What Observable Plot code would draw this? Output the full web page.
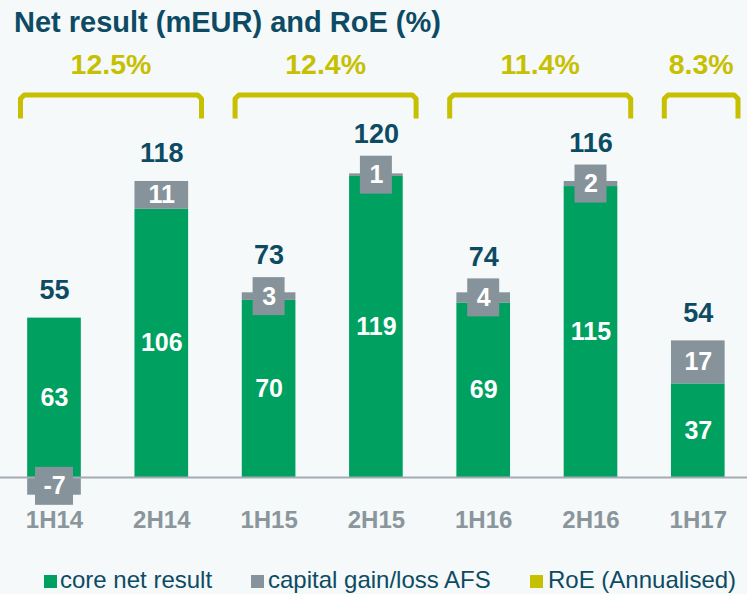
<!DOCTYPE html>
<html>
<head>
<meta charset="utf-8">
<script src="https://cdn.jsdelivr.net/npm/d3@7"></script>
<script src="https://cdn.jsdelivr.net/npm/@observablehq/plot@0.6"></script>
<style>
  html, body { margin: 0; padding: 0; background: #f5f9f9; }
  #wrap { position: relative; width: 747px; height: 594px; overflow: hidden; background: #f5f9f9; font-family: "Liberation Sans", Arial, sans-serif; }
  #title { position: absolute; left: 14px; top: 7.5px; font-size: 29px; line-height: 29px; font-weight: bold; color: #0d4b64; white-space: nowrap; }
  #chart { position: absolute; left: 0; top: 0; }
  .leg { position: absolute; top: 567.7px; font-size: 24px; line-height: 24px; color: #0d4b64; white-space: nowrap; }
  .sw { position: absolute; top: 574.5px; width: 13.5px; height: 13.5px; }
</style>
</head>
<body>
<div id="wrap">
  <div id="chart"></div>
  <div id="title">Net result (mEUR) and RoE (%)</div>
  <div id="legend"></div>
</div>
<script>
// ---- data ----
const periods   = ["1H14", "2H14", "1H15", "2H15", "1H16", "2H16", "1H17"];
const coreNet   = [63, 106, 70, 119, 69, 115, 37];
const capGain   = [-7, 11, 3, 1, 4, 2, 17];
const netTotal  = [55, 118, 73, 120, 74, 116, 54];
const roeLabels = ["12.5%", "12.4%", "11.4%", "8.3%"];
const roeFirst  = [0, 2, 4, 6];
const roeLast   = [1, 3, 5, 6];
const legendLabels = ["core net result", "capital gain/loss AFS", "RoE (Annualised)"];

// ---- styles ----
const GREEN = "#00a160", GREY = "#87939a", YELLOW = "#c6c000", TEAL = "#0d4b64", AXISGREY = "#8a969c";

const W = 747, H = 594;
const stepPx = 107.3, x0 = -54 / stepPx;
const kPx = 2.53, basePx = 477;

const rows = periods.map((p, i) => ({
  i, p, core: coreNet[i], gain: capGain[i], total: netTotal[i],
  box: Math.abs(capGain[i]) < 10
}));
const boxRows = rows.filter(d => d.box);
const gainMid = d => d.gain < 0 ? d.gain / 2 : d.core + d.gain / 2;

// RoE brackets
const yTop = 151.2, yBot = 141.9, cx = 0.035, cy = 1.5;
const brackets = roeLabels.map((lab, g) => ({
  g, lab, xs: roeFirst[g] - 0.317, xe: roeLast[g] + 0.37
}));
const bracketPts = brackets.flatMap(b => [
  {g: b.g, x: b.xs, y: yBot},
  {g: b.g, x: b.xs, y: yTop - cy},
  {g: b.g, x: b.xs + cx, y: yTop},
  {g: b.g, x: b.xe - cx, y: yTop},
  {g: b.g, x: b.xe, y: yTop - cy},
  {g: b.g, x: b.xe, y: yBot}
]);

const plot = Plot.plot({
  width: W, height: H,
  marginLeft: 0, marginRight: 0, marginTop: 0, marginBottom: 0,
  style: {background: "transparent", fontFamily: "Liberation Sans, Arial, sans-serif"},
  x: {domain: [x0, x0 + W / stepPx], axis: null},
  y: {domain: [(basePx - H) / kPx, basePx / kPx], axis: null},
  marks: [
    Plot.rect(rows, {x1: d => d.i - 0.25, x2: d => d.i + 0.25, y1: 0, y2: d => d.core, fill: GREEN}),
    Plot.rect(rows, {x1: d => d.i - 0.25, x2: d => d.i + 0.25,
      y1: d => d.gain < 0 ? 0 : d.core, y2: d => d.gain < 0 ? d.gain : d.core + d.gain, fill: GREY}),
    Plot.ruleY([0], {stroke: "#a4acb1", strokeWidth: 2}),
    Plot.rect(boxRows, {
      x1: d => d.i - (String(d.gain).length > 1 ? 0.177 : 0.149),
      x2: d => d.i + (String(d.gain).length > 1 ? 0.177 : 0.149),
      y1: d => gainMid(d) - 7.5, y2: d => gainMid(d) + 7.5, fill: GREY}),
    Plot.text(rows, {x: "i", y: d => d.core / 2, text: d => String(d.core),
      fill: "white", fontSize: 25, fontWeight: "bold"}),
    Plot.text(rows, {x: "i", y: gainMid, text: d => String(d.gain),
      fill: "white", fontSize: 25, fontWeight: "bold"}),
    Plot.text(rows.filter(d => d.box && d.gain > 0), {x: "i", y: gainMid, dy: -41,
      text: d => String(d.total), fill: TEAL, fontSize: 27, fontWeight: "bold"}),
    Plot.text(rows.filter(d => !(d.box && d.gain > 0)), {x: "i", y: d => d.core + Math.max(d.gain, 0), dy: -28,
      text: d => String(d.total), fill: TEAL, fontSize: 27, fontWeight: "bold"}),
    Plot.line(bracketPts, {x: "x", y: "y", z: "g", stroke: YELLOW, strokeWidth: 5,
      strokeLinejoin: "round", strokeLinecap: "butt"}),
    Plot.text(brackets, {x: d => (d.xs + d.xe) / 2, y: yTop, dy: -30, text: "lab",
      fill: YELLOW, fontSize: 28.5, fontWeight: "bold"}),
    Plot.text(periods, {x: (d, i) => i, frameAnchor: "bottom", dy: -67, text: d => d,
      fill: AXISGREY, fontSize: 24, fontWeight: "bold"})
  ]
});
document.getElementById("chart").appendChild(plot);

// legend
const legColors = [GREEN, GREY, YELLOW];
const swX = [43.5, 250.5, 529.5];
const txtX = [60, 268, 548];
const legend = document.getElementById("legend");
legendLabels.forEach((lab, k) => {
  const s = document.createElement("div");
  s.className = "sw"; s.style.left = swX[k] + "px"; s.style.background = legColors[k];
  legend.appendChild(s);
  const t = document.createElement("div");
  t.className = "leg"; t.style.left = txtX[k] + "px"; t.textContent = lab;
  legend.appendChild(t);
});
</script>
</body>
</html>
